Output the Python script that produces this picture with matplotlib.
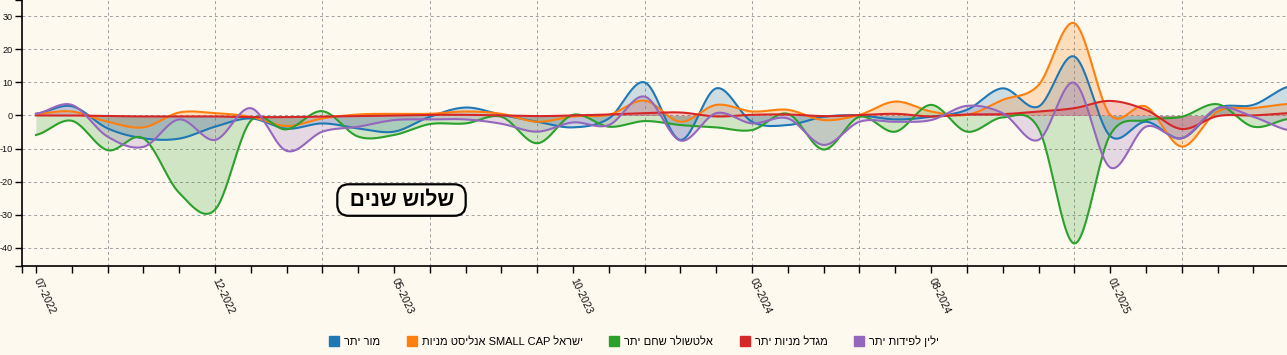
import numpy as np
import matplotlib

matplotlib.use("Agg")
import matplotlib.pyplot as plt
from matplotlib.patches import Patch


plt.rcParams["font.family"] = ["Liberation Sans", "DejaVu Sans"]
plt.rcParams["axes.unicode_minus"] = False

bg_color = "#fdf9ee"

# months from 07-2022, one value per month
month_labels = [
    "07-2022", "08-2022", "09-2022", "10-2022", "11-2022", "12-2022",
    "01-2023", "02-2023", "03-2023", "04-2023", "05-2023", "06-2023",
    "07-2023", "08-2023", "09-2023", "10-2023", "11-2023", "12-2023",
    "01-2024", "02-2024", "03-2024", "04-2024", "05-2024", "06-2024",
    "07-2024", "08-2024", "09-2024", "10-2024", "11-2024", "12-2024",
    "01-2025", "02-2025", "03-2025", "04-2025", "05-2025", "06-2025",
]

series_names = [
    "מור יתר",
    "ישראל SMALL CAP אנליסט מניות",
    "אלטשולר שחם יתר",
    "מגדל מניות יתר",
    "ילין לפידות יתר",
]
series_colors = ["#1f77b4", "#ff7f0e", "#2ca02c", "#d62728", "#9467bd"]

mor = [0.5, 2.8, -3.9, -6.9, -7.0, -3.4, -0.9, -4.0, -2.4, -3.9, -4.9, -0.4,
       2.4, 0.2, -1.9, -3.6, -0.9, 10.0, -7.4, 8.2, -1.9, -2.9, -0.4, 0.0,
       -1.2, -0.4, 1.7, 8.2, 2.7, 17.8, -6.2, -1.9, -6.9, 2.2, 3.2, 8.8]
analyst = [0.5, 1.2, -1.9, -3.6, 0.9, 0.7, -0.4, -3.2, -0.9, 0.3, 0.5, 0.5,
           1.2, 0.5, -1.9, -0.3, 0.2, 4.5, -1.9, 3.2, 1.2, 1.7, -1.4, 0.2,
           4.2, 1.2, 0.2, 4.7, 9.2, 27.9, 0.2, 2.7, -9.4, 1.2, 2.2, 3.5]
altshuler = [-5.9, -1.6, -10.5, -6.9, -23.4, -28.5, -1.6, -4.2, 1.3, -6.4, -5.9, -2.6,
             -2.4, -0.4, -8.4, 0.2, -3.4, -1.7, -2.9, -3.6, -4.4, 0.5, -10.3, -0.4,
             -4.9, 3.2, -4.9, -0.6, -3.9, -38.7, -5.9, -1.4, -0.4, 3.4, -3.4, -1.0]
migdal = [0.0, 0.0, -0.2, -0.3, -0.3, -0.3, -0.5, -0.5, -0.3, -0.2, 0.0, 0.2,
          0.2, 0.0, -0.2, 0.0, 0.3, 0.7, 0.9, -0.3, 0.2, 0.3, -0.2, 0.1,
          0.5, -0.3, 0.3, 0.4, 1.2, 2.2, 4.4, 1.7, -4.1, -0.2, 0.0, 0.7]
yelin = [0.5, 3.2, -6.4, -9.5, -1.2, -7.4, 2.2, -10.7, -4.9, -3.4, -1.4, -1.2,
         -1.2, -2.5, -4.9, -2.1, -2.9, 5.7, -7.6, 0.7, -2.4, -0.9, -8.9, -1.9,
         -1.9, -1.4, 2.9, 0.7, -7.4, 9.9, -15.7, -3.4, -6.9, 2.2, -0.4, -4.5]

series_values = [mor, analyst, altshuler, migdal, yelin]

label_every = 5
grid_start = 2
grid_every = 3
box_text = "שלוש שנים"


def visual(s):
    # simple right-to-left reordering for matplotlib (no bidi support)
    groups = []
    for tok in s.split(" "):
        heb = any("\u0590" <= c <= "\u05ff" for c in tok)
        if groups and not heb and not groups[-1][0]:
            groups[-1][1].append(tok)
        else:
            groups.append([heb, [tok]])
    out = []
    for heb, toks in reversed(groups):
        if heb:
            out.append(toks[0][::-1])
        else:
            out.append(" ".join(toks))
    return " ".join(out)


def cardinal(x, y, n=24):
    x = np.asarray(x, dtype=float)
    y = np.asarray(y, dtype=float)
    yp = np.concatenate([[y[0]], y, [y[-1]]])
    xs, ys = [], []
    t = np.linspace(0, 1, n, endpoint=False)
    for i in range(len(y) - 1):
        p0, p1, p2, p3 = yp[i], yp[i + 1], yp[i + 2], yp[i + 3]
        seg = 0.5 * (2 * p1 + (-p0 + p2) * t
                     + (2 * p0 - 5 * p1 + 4 * p2 - p3) * t ** 2
                     + (-p0 + 3 * p1 - 3 * p2 + p3) * t ** 3)
        xs.append(x[i] + t * (x[i + 1] - x[i]))
        ys.append(seg)
    xs.append([x[-1]])
    ys.append([y[-1]])
    return np.concatenate(xs), np.concatenate(ys)


x = np.arange(len(month_labels))

fig = plt.figure(figsize=(12.87, 3.55), dpi=100, facecolor=bg_color)
ax = fig.add_axes([22 / 1287, 89 / 355, 1 - 22 / 1287, 266 / 355])
ax.set_facecolor(bg_color)

for vals, color in zip(series_values, series_colors):
    xs, ys = cardinal(x, vals)
    ax.fill_between(xs, ys, 0, color=color, alpha=0.22, lw=0)
    ax.plot(xs, ys, color=color, lw=1.5)

xmin, xmax = -0.39, 34.94
ymin, ymax = -45.5, 34.9
ax.set_xlim(xmin, xmax)
ax.set_ylim(ymin, ymax)

# grid
for m in x[grid_start::grid_every]:
    if m <= xmax:
        ax.axvline(m, color="#a0a0a0", lw=0.7, ls=(0, (3, 3)), zorder=0)
ax.set_yticks(np.arange(-40, 31, 10))
ax.yaxis.grid(True, color="#a0a0a0", lw=0.7, ls=(0, (3, 3)))
ax.set_axisbelow(True)

tick_months = x[x <= xmax]
ax.set_xticks(tick_months)
ax.set_xticklabels([month_labels[i] if i % label_every == 0 else "" for i in tick_months],
                   rotation=-65, ha="left", va="center", rotation_mode="anchor",
                   fontsize=7.6, color="#111111")
ax.set_xticks([xmin], minor=True)
ax.set_yticks([ymin, ymax], minor=True)
ax.tick_params(axis="both", which="both", length=5, width=1, color="black",
               direction="out")
ax.tick_params(axis="x", which="major", pad=4)
ax.tick_params(axis="y", labelsize=6.6, labelcolor="#111111", pad=1.5)

for side in ["top", "right"]:
    ax.spines[side].set_visible(False)
for side in ["left", "bottom"]:
    ax.spines[side].set_color("black")
    ax.spines[side].set_linewidth(1.2)

ax.text(0.300, 0.248, " " + visual(box_text) + " ", transform=ax.transAxes,
        ha="center", va="center", fontsize=15, fontweight="bold", color="black",
        bbox=dict(boxstyle="round,pad=0.3,rounding_size=0.55", facecolor=bg_color,
                  edgecolor="black", linewidth=1.6))

handles = [Patch(facecolor=c, edgecolor=c) for c in series_colors]
fig.legend(handles, [visual(n) for n in series_names], loc="center",
           bbox_to_anchor=(634 / 1287, 1 - 341 / 355), ncol=len(series_names),
           frameon=False, fontsize=8, handlelength=0.9, handleheight=0.9,
           handletextpad=0.45, columnspacing=2.4)

fig.savefig("out.png", dpi=100, facecolor=bg_color)
